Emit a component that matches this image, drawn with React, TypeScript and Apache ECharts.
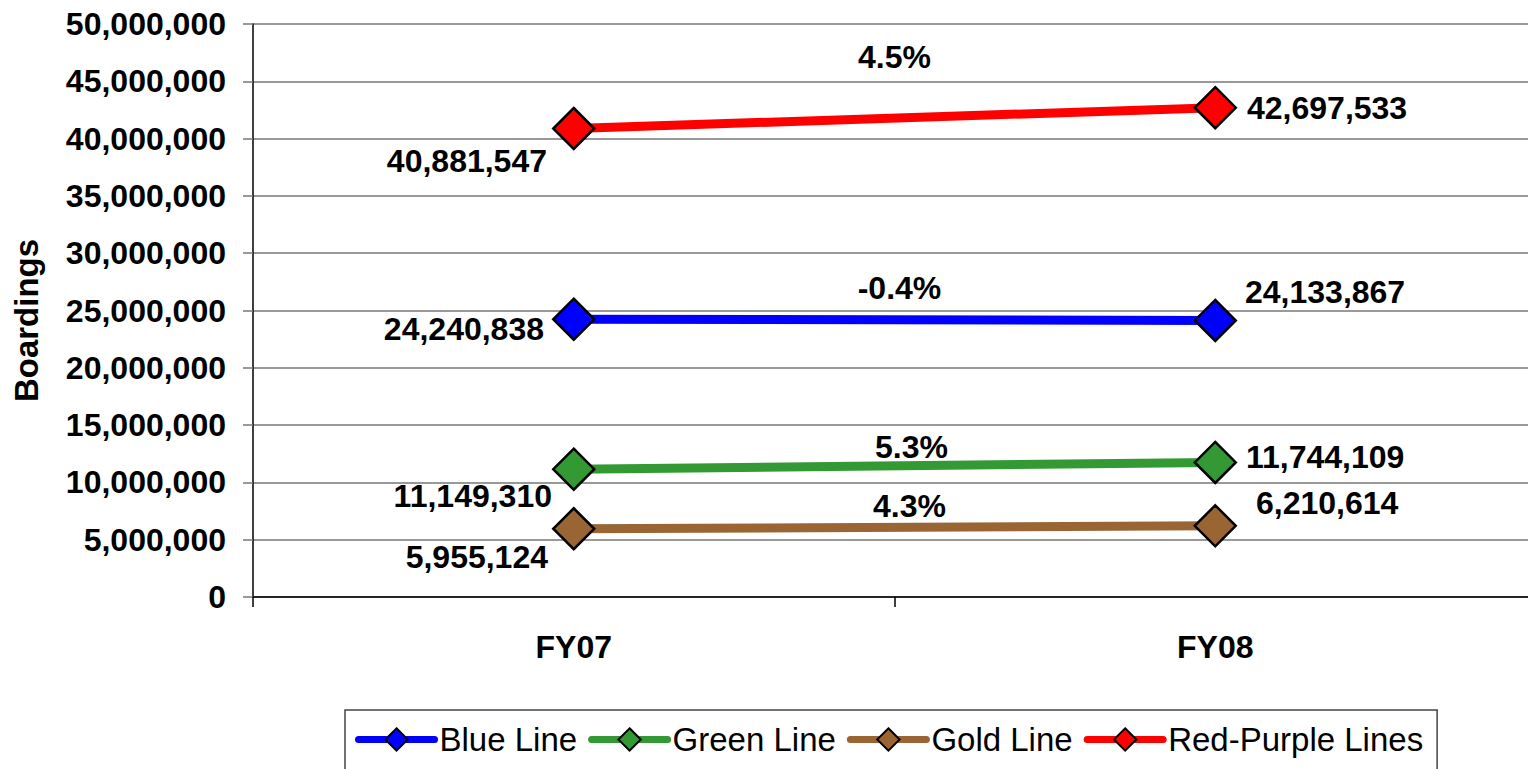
import React, { useEffect, useRef } from "react";
import * as echarts from "echarts";

const categories = ["FY07", "FY08"];
const seriesNames = ["Blue Line", "Green Line", "Gold Line", "Red-Purple Lines"];
const blueLine = [24240838, 24133867];
const greenLine = [11149310, 11744109];
const goldLine = [5955124, 6210614];
const redPurpleLines = [40881547, 42697533];
const changeLabels = ["-0.4%", "5.3%", "4.3%", "4.5%"];
const yTickMin = 0;
const yTickMax = 50000000;
const yTickStep = 5000000;

const colors = ["#0000FF", "#339933", "#996633", "#FF0000"];
const FONT = "'Liberation Sans', Arial, sans-serif";

// label layout (style only): [FY07 offset, FY08 offset]
const pointLabelOffsets: number[][][] = [
  [[-3, 10], [3, -28]],
  [[5, 27], [4, -5]],
  [[1, 28], [14, -23]],
  [[0, 33], [5, 0]],
];
const changeLabelOffsets: number[][] = [
  [5, -15],
  [17, -2],
  [15, -5],
  [0, -45],
];

const fmt = (v: number) => v.toLocaleString("en-US");

export default function App() {
  const ref = useRef<HTMLDivElement>(null);
  useEffect(() => {
    if (!ref.current) return;
    const chart = echarts.init(ref.current, null, { renderer: "svg" });
    const allValues = [blueLine, greenLine, goldLine, redPurpleLines];

    const lineSeries = allValues.map((vals, si) => ({
      name: seriesNames[si],
      type: "line",
      data: vals.map((v, i) => ({
        value: v,
        label: {
          show: true,
          position: i === 0 ? "left" : "right",
          distance: 5,
          offset: pointLabelOffsets[si][i],
          formatter: () => fmt(v),
          fontFamily: FONT,
          fontSize: 32,
          fontWeight: "bold",
          color: "#000",
        },
      })),
      symbol: "diamond",
      symbolSize: 41,
      lineStyle: { color: colors[si], width: 9 },
      itemStyle: { color: colors[si], borderColor: "#000", borderWidth: 2.5 },
      z: 3,
    }));

    const changeSeries = allValues.map((vals, si) => ({
      name: "change-" + si,
      type: "scatter",
      xAxisIndex: 1,
      yAxisIndex: 0,
      symbolSize: 1,
      itemStyle: { color: "rgba(0,0,0,0)" },
      silent: true,
      data: [[1, (vals[0] + vals[1]) / 2]],
      label: {
        show: true,
        position: "top",
        distance: 0,
        offset: changeLabelOffsets[si],
        formatter: () => changeLabels[si],
        fontFamily: FONT,
        fontSize: 32,
        fontWeight: "bold",
        color: "#000",
        opacity: 1,
        textBorderWidth: 0,
      },
      z: 4,
    }));

    chart.setOption({
      animation: false,
      backgroundColor: "#fff",
      grid: { left: 253, right: 0, top: 24, bottom: 172, containLabel: false },
      xAxis: [
        {
          type: "category",
          data: categories,
          boundaryGap: true,
          axisLine: { lineStyle: { color: "#000", width: 1.5 } },
          axisTick: { show: true, length: 10, lineStyle: { color: "#000", width: 1.5 } },
          axisLabel: {
            margin: 34,
            fontFamily: FONT,
            fontSize: 32,
            fontWeight: "bold",
            color: "#000",
          },
          splitLine: { show: false },
        },
        { type: "value", min: 0, max: 2, show: false },
      ],
      yAxis: {
        type: "value",
        min: yTickMin,
        max: yTickMax,
        interval: yTickStep,
        name: "Boardings",
        nameLocation: "middle",
        nameGap: 210,
        nameTextStyle: {
          fontFamily: FONT,
          fontSize: 33,
          fontWeight: "bold",
          color: "#000",
          padding: [0, 20, 0, 0],
        },
        axisLine: { show: true, lineStyle: { color: "#000", width: 1.5 } },
        axisTick: { show: true, length: 10, lineStyle: { color: "#777", width: 1.5 } },
        axisLabel: {
          margin: 27,
          formatter: (v: number) => fmt(v),
          fontFamily: FONT,
          fontSize: 32,
          fontWeight: "bold",
          color: "#000",
        },
        splitLine: { show: true, lineStyle: { color: "#777", width: 1.5 } },
      },
      legend: {
        data: seriesNames,
        left: 345,
        top: 710,
        orient: "horizontal",
        itemWidth: 76,
        itemHeight: 28,
        itemGap: 11,
        padding: [13, 14, 40, 10],
        borderColor: "#444",
        borderWidth: 1.5,
        backgroundColor: "#fff",
        lineStyle: { width: 7, cap: "round" },
        itemStyle: { borderColor: "#000", borderWidth: 2 },
        textStyle: { fontFamily: FONT, fontSize: 33, color: "#000" },
      },
      series: [...lineSeries, ...changeSeries],
    });
    return () => chart.dispose();
  }, []);
  return (
    <div style={{ position: "fixed", left: 0, top: 0, width: 1528, height: 769, overflow: "hidden" }}>
      <div ref={ref} style={{ width: 1536, height: 769 }} />
    </div>
  );
}
